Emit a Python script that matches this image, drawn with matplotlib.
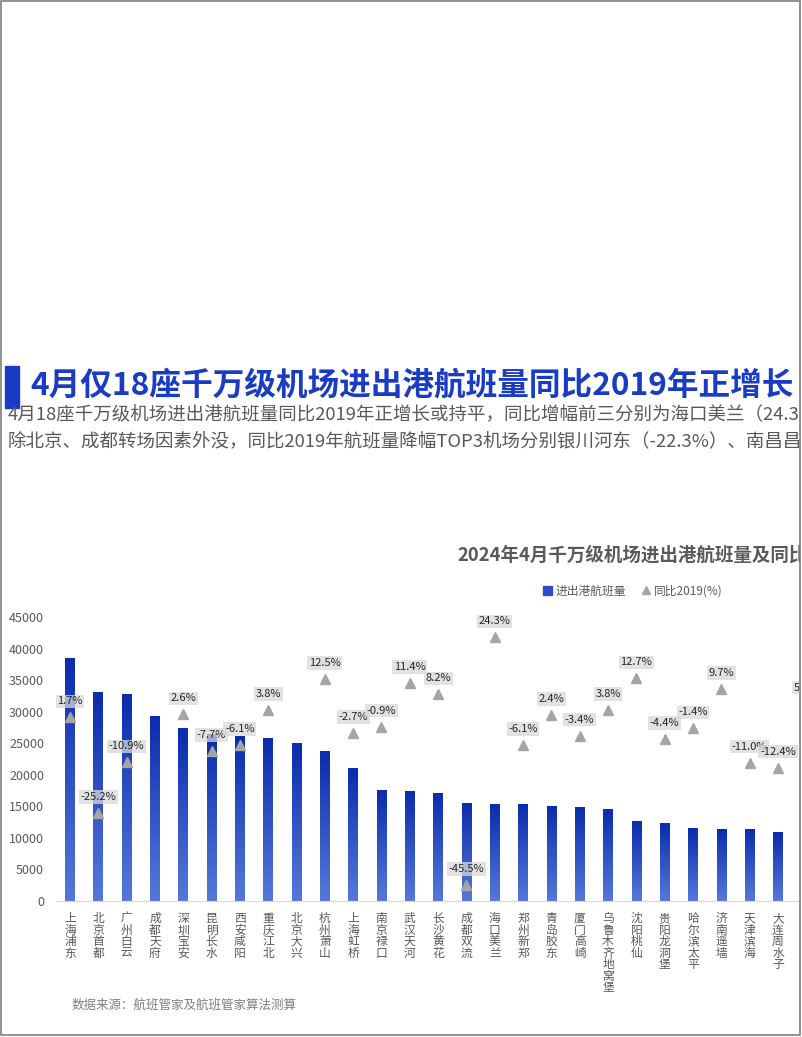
import matplotlib
matplotlib.use("Agg")
import matplotlib.pyplot as plt
import numpy as np
from matplotlib.colors import LinearSegmentedColormap
from matplotlib.patches import Rectangle
from matplotlib.lines import Line2D

plt.rcParams['font.family'] = ['Noto Sans CJK SC', 'DejaVu Sans']

W, H = 802, 1037

# 机场 / 进出港航班量 / 同比2019(%)
airports = [
    "上海浦东", "北京首都", "广州白云", "成都天府", "深圳宝安", "昆明长水",
    "西安咸阳", "重庆江北", "北京大兴", "杭州萧山", "上海虹桥", "南京禄口",
    "武汉天河", "长沙黄花", "成都双流", "海口美兰", "郑州新郑", "青岛胶东",
    "厦门高崎", "乌鲁木齐地窝堡", "沈阳桃仙", "贵阳龙洞堡", "哈尔滨太平",
    "济南遥墙", "天津滨海", "大连周水子", "南宁吴圩",
]
flights = [
    38500, 33100, 32700, 29300, 27400, 26400, 26000, 25800, 24900, 23700,
    21000, 17500, 17300, 17000, 15400, 15350, 15250, 14900, 14850, 14500,
    12600, 12250, 11550, 11350, 11300, 10900, 10800,
]
yoy_2019 = [
    1.7, -25.2, -10.9, None, 2.6, -7.7, -6.1, 3.8, None, 12.5,
    -2.7, -0.9, 11.4, 8.2, -45.5, 24.3, -6.1, 2.4, -3.4, 3.8,
    12.7, -4.4, -1.4, 9.7, -11.0, -12.4, 5.6,
]

main_title = "4月仅18座千万级机场进出港航班量同比2019年正增长"
sub_line1 = "4月18座千万级机场进出港航班量同比2019年正增长或持平，同比增幅前三分别为海口美兰（24.3"
sub_line2 = "除北京、成都转场因素外没，同比2019年航班量降幅TOP3机场分别银川河东（-22.3%）、南昌昌"
chart_title = "2024年4月千万级机场进出港航班量及同比"
source = "数据来源：航班管家及航班管家算法测算"

BLUE = "#1a3cc4"
GRAY_TXT = "#595959"
TRI = "#a5a5a5"


def px(x, y):
    """像素坐标 -> figure 坐标"""
    return x / W, 1 - y / H


fig = plt.figure(figsize=(W / 100, H / 100), dpi=100)

# 标题区
fig.add_artist(Rectangle(px(5, 408), 14 / W, 42 / H, color=BLUE,
                         transform=fig.transFigure))
fig.text(*px(30, 386), main_title, fontsize=22.8, weight="bold", color=BLUE,
         va="center")
fig.text(*px(8, 415), sub_line1, fontsize=13.3, color=GRAY_TXT, va="center")
fig.text(*px(8, 442), sub_line2, fontsize=13.3, color=GRAY_TXT, va="center")

# 图表
n = len(airports)
step = 28.32
left_px, bottom_px, top_px = 55.8, 901, 617
ax = fig.add_axes([left_px / W, 1 - bottom_px / H, n * step / W,
                   (bottom_px - top_px) / H])

bw = 0.34
grad = np.linspace(0, 1, 256).reshape(-1, 1)
cmap = LinearSegmentedColormap.from_list("bar", ["#0a2cae", "#5579d9"])
for i, v in enumerate(flights):
    ax.imshow(grad, extent=(i - bw / 2, i + bw / 2, 0, v), cmap=cmap,
              aspect="auto", origin="upper", zorder=2)

ax.set_xlim(-0.5, n - 0.5)
ax.set_ylim(0, 45000)
ax.set_yticks(range(0, 45001, 5000))
ax.set_xticks(range(n))
ax.set_xticklabels(["\n".join(a) for a in airports])
for lbl in ax.get_xticklabels():
    lbl.set_linespacing(0.85)
ax.tick_params(axis="x", length=0, pad=8, labelsize=8.5, labelcolor=GRAY_TXT)
ax.tick_params(axis="y", length=0, pad=8.5, labelsize=9, labelcolor=GRAY_TXT)
for s in ("top", "right", "left"):
    ax.spines[s].set_visible(False)
ax.spines["bottom"].set_color("#d9d9d9")

# 同比2019
ax2 = ax.twinx()
ax2.set_ylim(-50, 30)
ax2.axis("off")
idx = [i for i, p in enumerate(yoy_2019) if p is not None]
vals = [yoy_2019[i] for i in idx]
ax2.plot(idx, vals, linestyle="none", marker="^", markersize=7.5, color=TRI,
         zorder=3)
for i, p in zip(idx, vals):
    ax2.annotate(f"{p:.1f}%", (i, p), xytext=(0, 16), textcoords="offset pixels",
                 ha="center", va="center", fontsize=8, color="#262626",
                 bbox=dict(boxstyle="square,pad=0.15", fc="#d9d9d9", ec="none",
                           alpha=0.75), zorder=4)

# 图例
handles = [
    Rectangle((0, 0), 1, 1, color="#2b4fc8"),
    Line2D([], [], linestyle="none", marker="^", markersize=6, color=TRI),
]
ax.legend(handles, ["进出港航班量", "同比2019(%)"], loc="center",
          bbox_to_anchor=px(633, 591), bbox_transform=fig.transFigure,
          ncol=2, frameon=False, fontsize=8.5, handlelength=0.7,
          handleheight=0.7, handletextpad=0.3, columnspacing=1.4,
          labelcolor=GRAY_TXT)

fig.text(*px(457, 555), chart_title, fontsize=13.3, weight="bold",
         color=GRAY_TXT, va="center")
fig.text(*px(72, 1005), source, fontsize=9, color="#7f7f7f", va="center")

# 页面边框
fig.add_artist(Rectangle(px(800, 1037), 2 / W, 1, fc="white", ec="none",
                         transform=fig.transFigure, zorder=10))
fig.add_artist(Rectangle(px(1, 1035), 799 / W, 1034 / H, fill=False,
                         ec="#7f7f7f", lw=1.2, transform=fig.transFigure,
                         zorder=11))

fig.savefig("out.png", dpi=100)
